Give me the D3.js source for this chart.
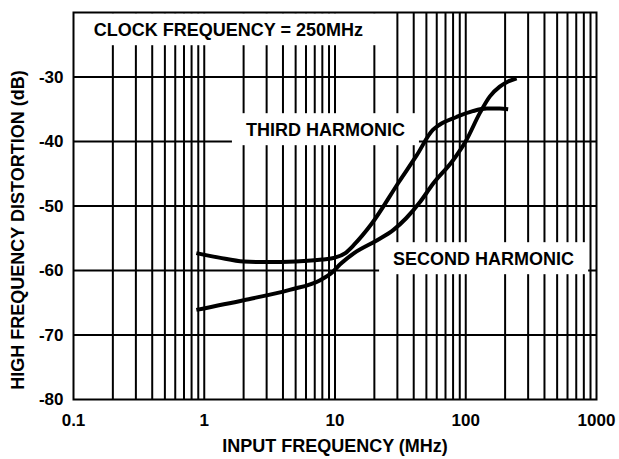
<!DOCTYPE html>
<html lang="en">
<head>
    <meta charset="UTF-8">
    <title>High Frequency Distortion vs Input Frequency</title>
    <script src="https://d3js.org/d3.v7.min.js"></script>
    <style>
        body {
            margin: 0;
            background: #fff;
        }
        text {
            font-family: "Liberation Sans", Arial, Helvetica, sans-serif;
            font-weight: bold;
            fill: #000;
        }
        .grid line {
            stroke: #000;
            stroke-width: 2;
        }
        .curve {
            fill: none;
            stroke: #000;
            stroke-width: 4;
        }
    </style>
</head>
<body>
    <div id="chart"></div>
    <script>
        // Values
        const thirdFreq = [0.87, 1.3, 2, 3, 5, 8, 10, 12, 14, 19, 31, 42, 56, 63, 85, 113, 145, 182, 211];
        const thirdDb = [-57.3, -58.0, -58.6, -58.7, -58.6, -58.3, -58.0, -57.3, -56.0, -52.8, -46.2, -42.2, -38.2, -37.4, -36.2, -35.3, -34.9, -34.9, -35.0];

        const secondFreq = [0.87, 2, 4.5, 7.7, 9.5, 11, 14, 21, 28, 35, 45, 56, 80, 101, 128, 153, 182, 211, 245];
        const secondDb = [-66.1, -64.6, -63.0, -61.5, -60.3, -59.0, -57.3, -55.3, -53.7, -51.9, -49.3, -46.6, -42.9, -39.8, -35.6, -33.0, -31.5, -30.7, -30.2];

        const xTickValues = [0.1, 1, 10, 100, 1000];
        const xTickLabels = ["0.1", "1", "10", "100", "1000"];
        const yTickValues = [-30, -40, -50, -60, -70, -80];

        // annotation text, centred at (MHz, dB)
        const labels = [
            { text: "CLOCK FREQUENCY = 250MHz", f: 1.53, db: -22.7 },
            { text: "THIRD HARMONIC", f: 8.45, db: -38.2 },
            { text: "SECOND HARMONIC", f: 137, db: -58.2 }
        ];

        const margin = { top: 12.5, right: 22.5, bottom: 59.5, left: 73.5 };
        const width = 619 - margin.left - margin.right;
        const height = 459 - margin.top - margin.bottom;

        const svg = d3.select("#chart")
            .append("svg")
            .attr("width", width + margin.left + margin.right)
            .attr("height", height + margin.top + margin.bottom)
            .append("g")
            .attr("transform", "translate(" + margin.left + "," + margin.top + ")");

        const x = d3.scaleLog()
            .domain([0.1, 1000])
            .range([0, width]);

        const y = d3.scaleLinear()
            .domain([-80, -20])
            .range([height, 0]);

        // grid: every 1..9 of each decade, and each 10 dB
        const grid = svg.append("g").attr("class", "grid");
        grid.selectAll(".vline")
            .data(x.ticks().filter(d => d > 0.1 && d < 1000))
            .enter()
            .append("line")
            .attr("x1", d => x(d))
            .attr("x2", d => x(d))
            .attr("y1", 0)
            .attr("y2", height);

        grid.selectAll(".hline")
            .data(yTickValues.filter(d => d > -80))
            .enter()
            .append("line")
            .attr("x1", 0)
            .attr("x2", width)
            .attr("y1", d => y(d))
            .attr("y2", d => y(d));

        // white boxes behind the annotations
        labels.forEach(function(l) {
            const t = svg.append("text")
                .attr("x", x(l.f))
                .attr("y", y(l.db))
                .attr("dy", "0.35em")
                .attr("text-anchor", "middle")
                .style("font-size", "18px")
                .text(l.text);
            const b = t.node().getBBox();
            svg.insert("rect", "text")
                .attr("x", b.x - 14)
                .attr("y", b.y - 7)
                .attr("width", b.width + 28)
                .attr("height", b.height + 12)
                .attr("fill", "#fff");
        });

        // frame
        svg.append("rect")
            .attr("width", width)
            .attr("height", height)
            .attr("fill", "none")
            .attr("stroke", "#000")
            .attr("stroke-width", 2);

        const line = d3.line()
            .x(d => x(d[0]))
            .y(d => y(d[1]))
            .curve(d3.curveMonotoneX);

        svg.append("path")
            .attr("class", "curve")
            .attr("d", line(d3.zip(thirdFreq, thirdDb)));

        svg.append("path")
            .attr("class", "curve")
            .attr("d", line(d3.zip(secondFreq, secondDb)));

        // tick labels
        svg.selectAll(".xlab")
            .data(xTickValues)
            .enter()
            .append("text")
            .attr("x", d => x(d))
            .attr("y", height + 26)
            .attr("text-anchor", "middle")
            .style("font-size", "17px")
            .text((d, i) => xTickLabels[i]);

        svg.selectAll(".ylab")
            .data(yTickValues)
            .enter()
            .append("text")
            .attr("x", -10)
            .attr("y", d => y(d))
            .attr("dy", "0.35em")
            .attr("text-anchor", "end")
            .style("font-size", "17px")
            .text(d => d);

        // axis titles
        svg.append("text")
            .attr("x", x(10))
            .attr("y", height + 52)
            .attr("text-anchor", "middle")
            .style("font-size", "18px")
            .text("INPUT FREQUENCY (MHz)");

        svg.append("text")
            .attr("transform", "rotate(-90)")
            .attr("x", -(230 - margin.top))
            .attr("y", 24 - margin.left)
            .attr("text-anchor", "middle")
            .style("font-size", "18px")
            .text("HIGH FREQUENCY DISTORTION (dB)");
    </script>
</body>
</html>
